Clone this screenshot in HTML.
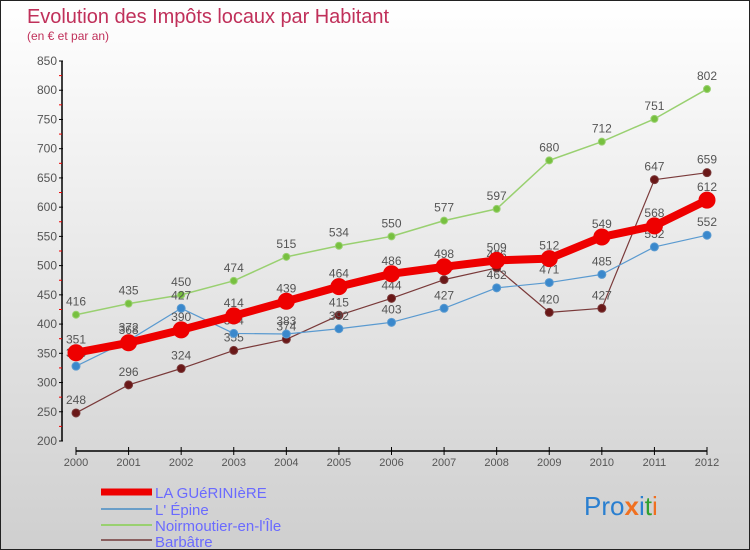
<!DOCTYPE html>
<html><head><meta charset="utf-8"><style>
body{margin:0}
#wrap{position:relative;width:748px;height:548px;border:1px solid #222;background:linear-gradient(#ffffff,#cfcfcf);overflow:hidden;font-family:"Liberation Sans","DejaVu Sans",sans-serif}
</style></head><body>
<div id="wrap">
<svg id="chart" width="748" height="548" font-family="Liberation Sans, DejaVu Sans, sans-serif">
<text x="26" y="22" font-size="20" fill="#c0305a" textLength="362">Evolution des Impôts locaux par Habitant</text>
<text x="26" y="39" font-size="12" fill="#c0305a">(en € et par an)</text>
<g id="axes"></g><g id="series"></g>
<g>
<line x1="100" y1="491" x2="151" y2="491" stroke="#ee0000" stroke-width="7"/>
<text x="154" y="497" font-size="15" fill="#6a6aff">LA GUéRINIèRE</text>
<line x1="100" y1="508" x2="151" y2="508" stroke="#6a9ec8" stroke-width="2"/>
<text x="154" y="514" font-size="15" fill="#6a6aff">L' Épine</text>
<line x1="100" y1="524" x2="151" y2="524" stroke="#99d070" stroke-width="2"/>
<text x="154" y="530" font-size="15" fill="#6a6aff">Noirmoutier-en-l'Île</text>
<line x1="100" y1="539" x2="151" y2="539" stroke="#8a6060" stroke-width="2"/>
<text x="154" y="546" font-size="15" fill="#6a6aff">Barbâtre</text>
</g>
<text x="583" y="514" font-size="26"><tspan fill="#2a7fd0">Pro</tspan><tspan fill="#f07020" font-weight="bold">x</tspan><tspan fill="#2a7fd0">i</tspan><tspan fill="#30a030">t</tspan><tspan fill="#f07020">i</tspan></text>
</svg></div>
<script>
const years=[2000,2001,2002,2003,2004,2005,2006,2007,2008,2009,2010,2011,2012];
const yTicks=[200,250,300,350,400,450,500,550,600,650,700,750,800,850];
const gueriniere=[351,368,390,414,439,464,486,498,509,512,549,568,612];
const epine=[328,372,427,384,383,392,403,427,462,471,485,532,552];
const noirmoutier=[416,435,450,474,515,534,550,577,597,680,712,751,802];
const barbatre=[248,296,324,355,374,415,444,476,496,420,427,647,659];
const NS="http://www.w3.org/2000/svg";
const xs=i=>75+(706-75)*i/(years.length-1);
const ys=v=>440-(v-200)*(380/650);
function mk(t,a,p){const e=document.createElementNS(NS,t);for(const k in a)e.setAttribute(k,a[k]);p.appendChild(e);return e;}
const ax=document.getElementById('axes');
let e=mk('line',{x1:61,y1:60,x2:61,y2:440,stroke:'#000','stroke-width':1.5},ax);


yTicks.forEach(v=>{
 mk('line',{x1:58,y1:ys(v),x2:62,y2:ys(v),stroke:'#000'},ax);
 if(v<850){mk('line',{x1:58,y1:ys(v+25),x2:61,y2:ys(v+25),stroke:'#e00'},ax);}
 const t=mk('text',{x:56,y:ys(v)+4,'font-size':12,fill:'#555','text-anchor':'end'},ax);t.textContent=v;
 
 
});
e=mk('line',{x1:75,y1:450,x2:706,y2:450,stroke:'#000','stroke-width':1.5},ax);


years.forEach((y,i)=>{
 mk('line',{x1:xs(i),y1:446,x2:xs(i),y2:454,stroke:'#000'},ax);
 const t=mk('text',{x:xs(i),y:465,'font-size':11,fill:'#555','text-anchor':'middle'},ax);t.textContent=y;
 
 
});
const sg=document.getElementById('series');
function draw(vals,name,color,w,r,mc){
 const g=mk('g',{},sg);
 
 
 mk('polyline',{points:vals.map((v,i)=>xs(i)+','+ys(v)).join(' '),fill:'none',stroke:color,'stroke-width':w,'stroke-linejoin':'round'},g);
 vals.forEach((v,i)=>{
  const c=mk('circle',{cx:xs(i),cy:ys(v),r:r,fill:mc,stroke:color,'stroke-width':1},g);
  
  
  const t=mk('text',{x:xs(i),y:ys(v)-9,'font-size':12,fill:'#555','text-anchor':'middle'},g);t.textContent=v;
  
  
 });
}
draw(barbatre,'barbatre','#7a3a3a',1.2,4,'#6a1818');
draw(noirmoutier,'noirmoutier','#99d070',1.5,3.5,'#77c040');
draw(epine,'l-epine','#5a9ad0',1.2,4,'#3a88cc');
draw(gueriniere,'la-gueriniere','#ee0000',8,8,'#ee0000');
</script>
</body></html>
